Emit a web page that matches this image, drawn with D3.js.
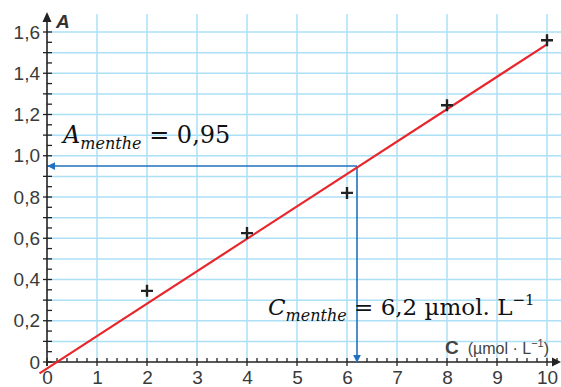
<!DOCTYPE html>
<html>
<head>
<meta charset="utf-8">
<script src="https://cdn.jsdelivr.net/npm/d3@7"></script>
<style>
    body { margin: 0; background: #fff; }
    svg { display: block; }
</style>
</head>
<body>
<svg width="561" height="387"></svg>
<script>
// measured points (C in µmol/L, A)
let concentrations = [2, 4, 6, 8, 10];
let absorbances = [0.345, 0.625, 0.82, 1.245, 1.56];

// fitted line
let fitC = [-0.15, 10];
let fitA = [-0.055, 1.54];

let xTicks = [0, 1, 2, 3, 4, 5, 6, 7, 8, 9, 10];
let yTicks = [0, 0.2, 0.4, 0.6, 0.8, 1.0, 1.2, 1.4, 1.6];

let cMenthe = 6.2;
let aMenthe = 0.95;

let svg = d3.select('svg'),
    width = +svg.attr('width'),
    height = +svg.attr('height');

let x = d3.scaleLinear().domain([0, 10]).range([47, 547]);
let y = d3.scaleLinear().domain([0, 1.6]).range([362, 32]);

let fr = d3.formatLocale({decimal: ',', thousands: ' ', grouping: [3], currency: ['', '€']});
let fmt = d => d === 0 ? '0' : fr.format('.1f')(d);

let gridColor = '#ace0f7';
let axisColor = '#222';

// grid
svg.append('g')
    .selectAll('line')
    .data(d3.range(1, 11))
    .enter().append('line')
    .attr('x1', d => x(d)).attr('x2', d => x(d))
    .attr('y1', 14).attr('y2', y(0))
    .attr('stroke', gridColor).attr('stroke-width', 1.5);

svg.append('g')
    .selectAll('line')
    .data(d3.range(1, 17).map(i => i / 10))
    .enter().append('line')
    .attr('x1', x(0)).attr('x2', width)
    .attr('y1', d => y(d)).attr('y2', d => y(d))
    .attr('stroke', gridColor).attr('stroke-width', 1.5);

// minor ticks
svg.append('g')
    .selectAll('line')
    .data(d3.range(0, 33).map(i => i * 0.05))
    .enter().append('line')
    .attr('x1', d => Math.round(d * 20) % 2 === 0 ? x(0) - 4 : x(0))
    .attr('x2', x(0) + 5)
    .attr('y1', d => y(d)).attr('y2', d => y(d))
    .attr('stroke', axisColor).attr('stroke-width', 1.3);

svg.append('g')
    .selectAll('line')
    .data(d3.range(0, 52).map(i => i * 0.2))
    .enter().append('line')
    .attr('x1', d => x(d)).attr('x2', d => x(d))
    .attr('y1', y(0) - 4)
    .attr('y2', d => Math.round(d * 5) % 5 === 0 ? y(0) + 4 : y(0))
    .attr('stroke', axisColor).attr('stroke-width', 1.3);

// axes
svg.append('line')
    .attr('x1', x(0)).attr('x2', 554)
    .attr('y1', y(0)).attr('y2', y(0))
    .attr('stroke', axisColor).attr('stroke-width', 1.6);
svg.append('path')
    .attr('d', `M561,${y(0)} L552,${y(0) - 4.5} L552,${y(0) + 4.5} Z`)
    .attr('fill', axisColor);

svg.append('line')
    .attr('x1', x(0)).attr('x2', x(0))
    .attr('y1', y(0) + 4).attr('y2', 20)
    .attr('stroke', axisColor).attr('stroke-width', 1.6);
svg.append('path')
    .attr('d', `M${x(0)},12 L${x(0) - 4.5},22 L${x(0) + 4.5},22 Z`)
    .attr('fill', axisColor);

// tick labels
let yAxis = d3.axisLeft(y).tickValues(yTicks).tickFormat(fmt).tickSize(0).tickPadding(7);
let gy = svg.append('g').attr('transform', `translate(${x(0)},0)`).call(yAxis);
gy.select('.domain').remove();
gy.selectAll('text')
    .attr('font-family', 'Liberation Sans, sans-serif')
    .attr('font-size', 19)
    .attr('fill', '#3a3a3a');

let xAxis = d3.axisBottom(x).tickValues(xTicks).tickSize(0).tickPadding(9);
let gx = svg.append('g').attr('transform', `translate(0,${y(0)})`).call(xAxis);
gx.select('.domain').remove();
gx.selectAll('text')
    .attr('font-family', 'Liberation Sans, sans-serif')
    .attr('font-size', 19)
    .attr('fill', '#3a3a3a');

// axis titles
svg.append('text')
    .attr('x', 56).attr('y', 28)
    .attr('font-family', 'Liberation Sans, sans-serif')
    .attr('font-size', 19).attr('font-weight', 'bold').attr('font-style', 'italic')
    .attr('fill', '#333')
    .text('A');

let ct = svg.append('text')
    .attr('x', 445).attr('y', 354)
    .attr('font-family', 'Liberation Sans, sans-serif')
    .attr('fill', '#444');
ct.append('tspan').attr('font-size', 19).attr('font-weight', 'bold').text('C');
ct.append('tspan').attr('font-size', 16).attr('dx', 9).text('(µmol · L');
ct.append('tspan').attr('font-size', 11).attr('dy', -7).text('−1');
ct.append('tspan').attr('font-size', 16).attr('dy', 7).text(')');

// reading lines
let blue = '#2171c1';
svg.append('defs').append('marker')
    .attr('id', 'arrow')
    .attr('viewBox', '0 0 10 10')
    .attr('refX', 9).attr('refY', 5)
    .attr('markerWidth', 8).attr('markerHeight', 8)
    .attr('markerUnits', 'userSpaceOnUse')
    .attr('orient', 'auto')
    .append('path')
    .attr('d', 'M0,0 L10,5 L0,10 Z')
    .attr('fill', blue);

svg.append('line')
    .attr('x1', x(cMenthe)).attr('x2', x(0) + 1)
    .attr('y1', y(aMenthe)).attr('y2', y(aMenthe))
    .attr('stroke', blue).attr('stroke-width', 1.6)
    .attr('marker-end', 'url(#arrow)');

svg.append('line')
    .attr('x1', x(cMenthe)).attr('x2', x(cMenthe))
    .attr('y1', y(aMenthe)).attr('y2', y(0))
    .attr('stroke', blue).attr('stroke-width', 1.6)
    .attr('marker-end', 'url(#arrow)');

// fitted line
svg.append('line')
    .attr('x1', x(fitC[0])).attr('y1', y(fitA[0]))
    .attr('x2', x(fitC[1])).attr('y2', y(fitA[1]))
    .attr('stroke', '#e8262b').attr('stroke-width', 2.2);

// points
svg.append('g')
    .selectAll('path')
    .data(concentrations.map((c, i) => ({c: c, a: absorbances[i]})))
    .enter().append('path')
    .attr('d', d => `M${x(d.c) - 6},${y(d.a)} h12 M${x(d.c)},${y(d.a) - 6} v12`)
    .attr('stroke', '#222').attr('stroke-width', 2.4);

// annotations
let serif = 'DejaVu Serif, serif';
let ta = svg.append('text')
    .attr('x', 63).attr('y', 143)
    .attr('font-family', serif).attr('fill', '#111');
ta.append('tspan').attr('font-size', 24).attr('font-style', 'italic').text('A');
ta.append('tspan').attr('font-size', 16).attr('font-style', 'italic').attr('dy', 6).text('menthe');
ta.append('tspan').attr('font-size', 24).attr('dy', -6).text(' = 0,95');

let tc = svg.append('text')
    .attr('x', 268).attr('y', 315)
    .attr('font-family', serif).attr('fill', '#111');
tc.append('tspan').attr('font-size', 23).attr('font-style', 'italic').text('C');
tc.append('tspan').attr('font-size', 16).attr('font-style', 'italic').attr('dy', 6).text('menthe');
tc.append('tspan').attr('font-size', 23).attr('dy', -6).text(' = 6,2 µmol. L');
tc.append('tspan').attr('font-size', 15).attr('dy', -10).text('−1');
</script>
</body>
</html>
